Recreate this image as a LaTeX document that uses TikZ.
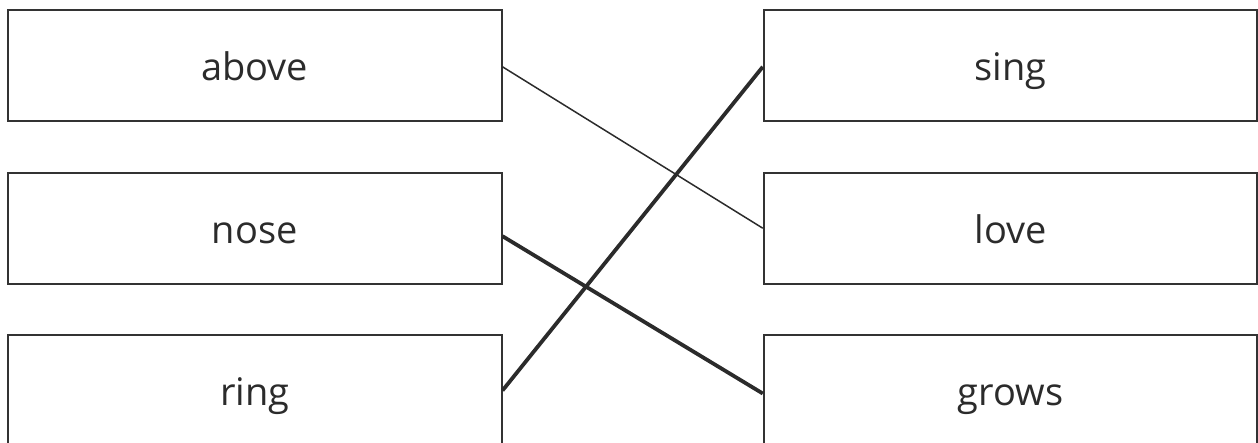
\documentclass[tikz,border=0pt]{standalone}
\usepackage{fontspec}
\setmainfont{Open Sans}
\definecolor{ink}{HTML}{2B2B2B}
\definecolor{boxline}{HTML}{333333}
\tikzset{
  wordbox/.style={draw=boxline, line width=2pt, rectangle, minimum width=493.5pt,
    minimum height=111pt, inner sep=0pt, text height=35pt, text depth=5pt,
    font=\fontsize{38}{44}\selectfont, text=ink},
  thinlink/.style={draw=ink, line width=1.5pt},
  thicklink/.style={draw=ink, line width=3.8pt}
}
\begin{document}
\begin{tikzpicture}[x=1pt,y=-1pt]
\useasboundingbox (0,0) rectangle (1258,443);
\clip (0,0) rectangle (1258,443);
\node[wordbox] (above) at (254.75,65.8) {above};
\node[wordbox] (nose)  at (254.75,228.2) {nose};
\node[wordbox] (ring)  at (254.75,390.5) {ring};
\node[wordbox] (sing)  at (1010.5,65.8) {sing};
\node[wordbox] (love)  at (1010.5,228.2) {love};
\node[wordbox] (grows) at (1010.5,390.5) {grows};
\draw[thinlink] ([yshift=-1pt]above.east) -- (love.west);
\draw[thicklink] (ring.east) -- ([yshift=-1pt]sing.west);
\draw[thicklink] ([yshift=-8pt]nose.east) -- ([yshift=-3pt]grows.west);
\end{tikzpicture}
\end{document}
